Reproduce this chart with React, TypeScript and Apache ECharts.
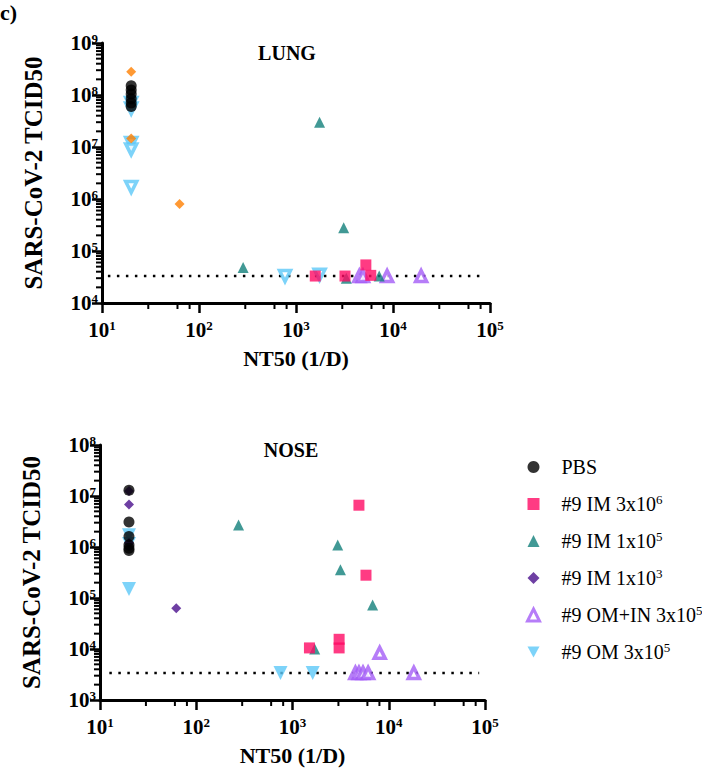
import React, { useEffect, useRef } from 'react';
import * as echarts from 'echarts';

// ---------- tick helpers ----------
const minorXFactors = [3, 6, 8];
const minorYFactors = [2, 3, 4, 5, 6, 7, 8, 9];
const xDecades = [10, 100, 1000, 10000];
const yDecadesLung = [1e4, 1e5, 1e6, 1e7, 1e8];
const yDecadesNose = [1e3, 1e4, 1e5, 1e6, 1e7];

// ---------- LUNG data ----------
const lungPbsX = [20, 20, 20, 20, 20, 20];
const lungPbsY = [1.5e8, 1.25e8, 1.05e8, 8.5e7, 7e7, 6e7];
const lungIm3e6X = [1580, 3200, 5250, 5900];
const lungIm3e6Y = [3.3e4, 3.3e4, 5.4e4, 3.4e4];
const lungIm1e5X = [1750, 3100, 285, 3300, 7200];
const lungIm1e5Y = [3.0e7, 2.8e5, 4.8e4, 3.0e4, 3.3e4];
const lungIm1e3X = [20, 20, 63];
const lungIm1e3Y = [2.8e8, 1.45e7, 8.0e5];
const lungOmInX = [4500, 4900, 8700, 19500];
const lungOmInY = [3.3e4, 3.3e4, 3.3e4, 3.3e4];
const lungOmX = [20, 20, 20, 20, 20, 770, 1750];
const lungOmY = [7e7, 5.5e7, 1.2e7, 9e6, 1.7e6, 3.3e4, 3.5e4];
const lungLimitX = [11.5, 85000];
const lungLimitY = [3.3e4, 3.3e4];

// ---------- NOSE data ----------
const nosePbsX = [20, 20, 20, 20, 20, 20];
const nosePbsY = [1.3e7, 3.1e6, 1.6e6, 1.1e6, 9.5e5, 8.5e5];
const noseIm3e6X = [4900, 5800, 1500, 3050, 3050];
const noseIm3e6Y = [6.6e6, 2.8e5, 1.05e4, 1.05e4, 1.55e4];
const noseIm1e5X = [275, 2950, 3150, 6800, 1700];
const noseIm1e5Y = [2.7e6, 1.1e6, 3.6e5, 7.3e4, 1.0e4];
const noseIm1e3X = [20, 20, 20, 62];
const noseIm1e3Y = [1.25e7, 6.8e6, 1.2e6, 6.3e4];
const noseOmInX = [4500, 4900, 5400, 6100, 8050, 18200];
const noseOmInY = [3.4e3, 3.4e3, 3.4e3, 3.4e3, 8.4e3, 3.4e3];
const noseOmX = [20, 20, 20, 750, 1620];
const noseOmY = [1.7e6, 1.15e6, 1.5e5, 3.4e3, 3.4e3];
const noseLimitX = [12.5, 87000];
const noseLimitY = [3.4e3, 3.4e3];

// ---------- legend ----------
const legendKeys = ['PBS', 'IM3e6', 'IM1e5', 'IM1e3', 'OMIN3e5', 'OM3e5'];
const legendLabels: Record<string, string> = {
  PBS: '{n|PBS}',
  IM3e6: '{n|#9 IM 3x10}{s|6}',
  IM1e5: '{n|#9 IM 1x10}{s|5}',
  IM1e3: '{n|#9 IM 1x10}{s|3}',
  OMIN3e5: '{n|#9 OM+IN 3x10}{s|5}',
  OM3e5: '{n|#9 OM 3x10}{s|5}',
};

const FONT = '"Liberation Serif", "Times New Roman", serif';
const BLACK = '#000000';
const MAGENTA = '#FF0A64';
const TEAL = '#12807A';
const INDIGO = '#4A0F8C';
const LILAC = '#A45CF6';
const SKY = '#5CC8F8';
const ORANGE = '#FF8000';

const zip = (xs: number[], ys: number[]) => xs.map((x, i) => [x, ys[i]]);

const richAxis = {
  b: { fontFamily: FONT, fontWeight: 'bold', fontSize: 21, color: '#000', lineHeight: 22 },
  s: { fontFamily: FONT, fontWeight: 'bold', fontSize: 13, color: '#000', lineHeight: 13, verticalAlign: 'top' },
};
const powLabel = (v: number) => `{b|10}{s|${Math.round(Math.log10(v))}}`;

const nameStyleX = { fontFamily: FONT, fontWeight: 'bold', fontSize: 22, color: '#000' };
const nameStyleY = { fontFamily: FONT, fontWeight: 'bold', fontSize: 25, color: '#000' };

function axisLabelStyle(margin: number) {
  return {
    formatter: powLabel,
    rich: richAxis,
    margin,
    fontFamily: FONT,
    fontWeight: 'bold',
    fontSize: 21,
    color: '#000',
    showMinLabel: true,
    showMaxLabel: true,
  };
}

function xAxisFor(gridIndex: number) {
  return {
    type: 'log',
    logBase: 10,
    gridIndex,
    min: 10,
    max: 1e5,
    splitNumber: 4,
    axisLine: { show: true, onZero: false, lineStyle: { color: '#000', width: 3 } },
    axisTick: { show: true, length: 10, lineStyle: { color: '#000', width: 2.5 } },
    minorTick: { show: false },
    splitLine: { show: false },
    axisLabel: axisLabelStyle(16),
    name: 'NT50 (1/D)',
    nameLocation: 'middle',
    nameGap: 44,
    nameTextStyle: nameStyleX,
  };
}

function yAxisFor(gridIndex: number, min: number, max: number) {
  return {
    type: 'log',
    logBase: 10,
    gridIndex,
    min,
    max,
    splitNumber: 5,
    axisLine: { show: true, onZero: false, lineStyle: { color: '#000', width: 3 } },
    axisTick: { show: true, length: 10, lineStyle: { color: '#000', width: 2.5 } },
    minorTick: { show: false },
    splitLine: { show: false },
    axisLabel: axisLabelStyle(4),
    name: 'SARS-CoV-2 TCID50',
    nameLocation: 'middle',
    nameGap: 56,
    nameTextStyle: nameStyleY,
  };
}

function minorYSeries(idx: number, decades: number[], xMin: number) {
  const data: number[][] = [];
  decades.forEach((d) => minorYFactors.forEach((f) => data.push([xMin, d * f])));
  return {
    type: 'custom',
    xAxisIndex: idx,
    yAxisIndex: idx,
    silent: true,
    clip: false,
    z: 5,
    data,
    renderItem: (_p: any, api: any) => {
      const p = api.coord([api.value(0), api.value(1)]);
      return {
        type: 'line',
        shape: { x1: p[0] - 6, y1: p[1], x2: p[0], y2: p[1] },
        style: { stroke: '#000', lineWidth: 2 },
      };
    },
  };
}

function minorXSeries(idx: number, yMin: number) {
  const data: number[][] = [];
  xDecades.forEach((d) => minorXFactors.forEach((f) => data.push([d * f, yMin])));
  return {
    type: 'custom',
    xAxisIndex: idx,
    yAxisIndex: idx,
    silent: true,
    clip: false,
    z: 5,
    data,
    renderItem: (_p: any, api: any) => {
      const p = api.coord([api.value(0), api.value(1)]);
      return {
        type: 'line',
        shape: { x1: p[0], y1: p[1], x2: p[0], y2: p[1] + 6 },
        style: { stroke: '#000', lineWidth: 2 },
      };
    },
  };
}

function scatter(name: string, idx: number, data: number[][], symbol: string, size: number, itemStyle: any, rotate = 0, z = 2) {
  return {
    type: 'scatter',
    name,
    xAxisIndex: idx,
    yAxisIndex: idx,
    data,
    symbol,
    symbolSize: size,
    symbolRotate: rotate,
    itemStyle,
    z,
    emphasis: { disabled: true },
  };
}

function limitLine(idx: number, data: number[][]) {
  return {
    type: 'line',
    xAxisIndex: idx,
    yAxisIndex: idx,
    data,
    symbol: 'none',
    silent: true,
    z: 1,
    lineStyle: { color: '#000', width: 2.5, type: [2.5, 6.5], cap: 'butt' },
  };
}

const DOWN_TRIANGLE = 'path://M0,0 L10,0 L5,9 Z';

export default function App() {
  const ref = useRef<HTMLDivElement>(null);
  useEffect(() => {
    if (!ref.current) return;
    const chart = echarts.init(ref.current, undefined, { renderer: 'svg' });
    const legendData = legendKeys.map((k) => {
      if (k === 'OM3e5') return { name: k, icon: DOWN_TRIANGLE };
      if (k === 'OMIN3e5') return { name: k, itemStyle: { color: '#fff', borderColor: LILAC, borderWidth: 3 } };
      return { name: k };
    });
    const option: any = {
      animation: false,
      backgroundColor: '#fff',
      grid: [
        { left: 102, top: 43, width: 388, height: 260 },
        { left: 100, top: 445, width: 385, height: 255 },
      ],
      xAxis: [xAxisFor(0), xAxisFor(1)],
      yAxis: [yAxisFor(0, 1e4, 1e9), yAxisFor(1, 1e3, 1e8)],
      legend: {
        data: legendData,
        orient: 'vertical',
        left: 521,
        top: 452,
        itemWidth: 12,
        itemHeight: 12,
        itemGap: 16,
        selectedMode: false,
        formatter: (n: string) => legendLabels[n],
        textStyle: {
          fontFamily: FONT,
          fontSize: 20,
          color: '#000',
          padding: [0, 0, 0, 17],
          rich: {
            n: { fontFamily: FONT, fontSize: 20, color: '#000', lineHeight: 22 },
            s: { fontFamily: FONT, fontSize: 13, color: '#000', lineHeight: 13, verticalAlign: 'top' },
          },
        },
      },
      graphic: [
        { type: 'text', x: 0, y: 12, style: { text: 'c)', fontFamily: FONT, fontWeight: 'bold', fontSize: 22, fill: '#000', align: 'left', verticalAlign: 'middle', textAlign: 'left', textVerticalAlign: 'middle' } },
        { type: 'text', x: 287, y: 53, style: { text: 'LUNG', fontFamily: FONT, fontWeight: 'bold', fontSize: 20, fill: '#000', align: 'center', verticalAlign: 'middle', textAlign: 'center', textVerticalAlign: 'middle' } },
        { type: 'text', x: 291, y: 450, style: { text: 'NOSE', fontFamily: FONT, fontWeight: 'bold', fontSize: 20, fill: '#000', align: 'center', verticalAlign: 'middle', textAlign: 'center', textVerticalAlign: 'middle' } },
      ],
      series: [
        limitLine(0, zip(lungLimitX, lungLimitY)),
        limitLine(1, zip(noseLimitX, noseLimitY)),
        minorYSeries(0, yDecadesLung, 10),
        minorXSeries(0, 1e4),
        minorYSeries(1, yDecadesNose, 10),
        minorXSeries(1, 1e3),
        // LUNG
        scatter('L_OM3e5', 0, zip(lungOmX, lungOmY), 'triangle', 11, { color: '#fff', borderColor: SKY, borderWidth: 3.5 }, 180),
        scatter('L_OMIN3e5', 0, zip(lungOmInX, lungOmInY), 'triangle', 11, { color: '#fff', borderColor: LILAC, borderWidth: 3.5 }),
        scatter('L_IM1e5', 0, zip(lungIm1e5X, lungIm1e5Y), 'triangle', 11, { color: TEAL }),
        scatter('L_IM1e3', 0, zip(lungIm1e3X, lungIm1e3Y), 'diamond', 10, { color: ORANGE }, 0, 3),
        scatter('L_PBS', 0, zip(lungPbsX, lungPbsY), 'circle', 11, { color: BLACK }, 0, 3),
        scatter('L_IM3e6', 0, zip(lungIm3e6X, lungIm3e6Y), 'rect', 11, { color: MAGENTA }, 0, 4),
        // NOSE
        scatter('OM3e5', 1, zip(noseOmX, noseOmY), 'triangle', 14, { color: SKY }, 180),
        scatter('OMIN3e5', 1, zip(noseOmInX, noseOmInY), 'triangle', 11, { color: '#fff', borderColor: LILAC, borderWidth: 3.5 }),
        scatter('IM1e5', 1, zip(noseIm1e5X, noseIm1e5Y), 'triangle', 11, { color: TEAL }),
        scatter('IM1e3', 1, zip(noseIm1e3X, noseIm1e3Y), 'diamond', 10, { color: INDIGO }, 0, 3),
        scatter('PBS', 1, zip(nosePbsX, nosePbsY), 'circle', 11, { color: BLACK }, 0, 3),
        scatter('IM3e6', 1, zip(noseIm3e6X, noseIm3e6Y), 'rect', 11, { color: MAGENTA }, 0, 4),
      ],
    };
    chart.setOption(option);
    return () => chart.dispose();
  }, []);
  return <div ref={ref} style={{ position: 'absolute', left: 0, top: 0, width: 702, height: 773 }} />;
}
